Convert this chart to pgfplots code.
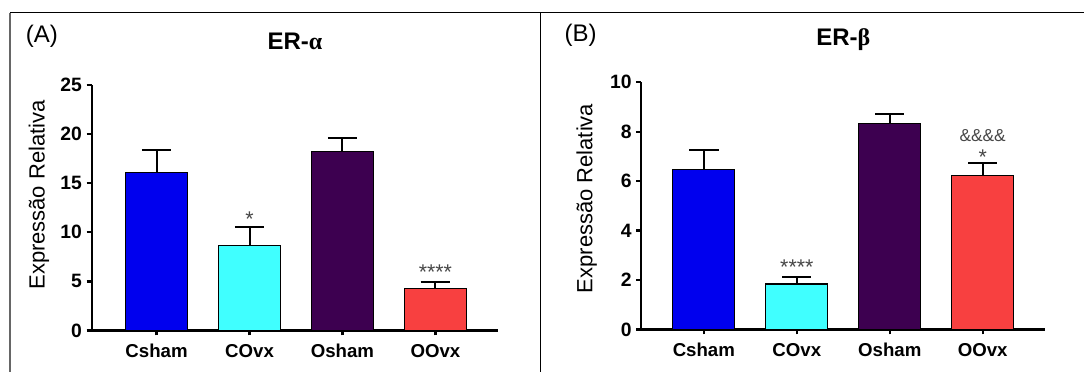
\documentclass[border=0pt]{standalone}
\usepackage{pgfplots}
\pgfplotsset{compat=1.18}
\usepackage{fontspec}
\setmainfont{Liberation Sans}
\newfontfamily\grk{Liberation Serif}
\definecolor{cblue}{RGB}{0,0,238}
\definecolor{ccyan}{RGB}{64,255,255}
\definecolor{cpurp}{RGB}{61,0,80}
\definecolor{cred}{RGB}{248,64,64}
\definecolor{anno}{RGB}{70,70,70}
\pgfplotsset{
  panel/.style={
    scale only axis,
    axis x line*=bottom, axis y line*=left,
    axis line style={line width=1.7pt, black},
    tick align=outside,
    major tick length=3.75pt,
    tick style={line width=1.7pt, black},
    xtick={0,1,2,3},
    xticklabels={Csham,COvx,Osham,OOvx},
    ymin=0,
    enlargelimits=false,
    xticklabel style={font=\bfseries\fontsize{14}{16}\selectfont, yshift=-3pt},
    yticklabel style={font=\bfseries\fontsize{14.5}{16}\selectfont},
    ylabel style={font=\fontsize{16.5}{19}\selectfont, anchor=center},
    title style={font=\bfseries\fontsize{18}{21}\selectfont, anchor=center},
    /pgf/number format/assume math mode=true,
    clip=false,
  },
  barA/.style={ybar, bar width=0.667, bar shift=0pt, draw=black, line width=0.8pt,
    error bars/.cd, y dir=plus, y explicit,
    error bar style={line width=1.5pt, black},
    error mark options={rotate=90, mark size=11pt, line width=1.5pt, black},
    /pgfplots/.cd},
}
\begin{document}
\begin{tikzpicture}
\path (0,0) rectangle (813.75pt,279pt);
\draw[line width=1pt, black!60] (7.5pt,0) -- (7.5pt,269.5pt);
\draw[line width=1pt] (7.5pt,269.5pt) -- (813.75pt,269.5pt);
\draw[line width=1pt] (405.75pt,0) -- (405.75pt,269.5pt);
\node[font=\fontsize{18}{21}\selectfont] at (31.5pt,252pt) {(A)};
\node[font=\fontsize{18}{21}\selectfont] at (435.75pt,252.75pt) {(B)};
\coordinate (pA) at (68.775pt,30.975pt);
\coordinate (pB) at (481.275pt,31.725pt);

\begin{axis}[panel,
  at={(pA)}, anchor=south west,
  width=305.25pt, height=184.3pt,
  xmin=-0.699, xmax=3.678,
  ymax=25, ytick={0,5,10,15,20,25},
  ylabel={Expressão Relativa},
  ylabel style={at={(axis description cs:-0.1295,0.552)}},
  title={ER-{\grk α}},
  title style={at={(axis description cs:0.5,1.1465)}},
]
\addplot[fill=cblue, barA] coordinates {(0,16.07) +- (0,2.27)};
\addplot[fill=ccyan, barA] coordinates {(1,8.68) +- (0,1.86)};
\addplot[fill=cpurp, barA] coordinates {(2,18.2) +- (0,1.4)};
\addplot[fill=cred, barA] coordinates {(3,4.24) +- (0,0.68)};
\node[anchor=base, text=anno, font=\fontsize{16}{18}\selectfont] at (axis cs:1,10.6) {*};
\node[anchor=base, text=anno, font=\fontsize{16}{18}\selectfont] at (axis cs:3,5.2) {****};
\end{axis}

\begin{axis}[panel,
  at={(pB)}, anchor=south west,
  width=303.2pt, height=185.55pt,
  xmin=-0.673, xmax=3.674,
  ymax=10, ytick={0,2,4,6,8,10},
  ylabel={Expressão Relativa},
  ylabel style={at={(axis description cs:-0.1353,0.53)}},
  title={ER-{\grk β}},
  title style={at={(axis description cs:0.5,1.1386)}},
]
\addplot[fill=cblue, barA] coordinates {(0,6.48) +- (0,0.77)};
\addplot[fill=ccyan, barA] coordinates {(1,1.84) +- (0,0.27)};
\addplot[fill=cpurp, barA] coordinates {(2,8.34) +- (0,0.37)};
\addplot[fill=cred, barA] coordinates {(3,6.21) +- (0,0.53)};
\node[anchor=base, text=anno, font=\fontsize{16}{18}\selectfont] at (axis cs:1,2.24) {****};
\node[anchor=base, text=anno, font=\fontsize{16}{18}\selectfont] at (axis cs:3,6.67) {*};
\node[anchor=base, text=anno, font=\fontsize{13}{15}\selectfont] at (axis cs:3,7.6) {\&\&\&\&};
\end{axis}
\end{tikzpicture}
\end{document}
